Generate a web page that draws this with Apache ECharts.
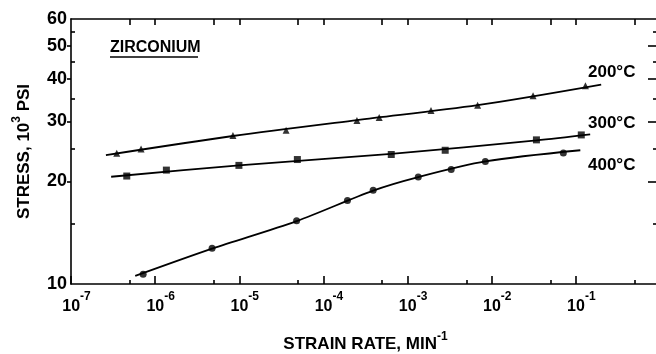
<!DOCTYPE html>
<html><head><meta charset="utf-8">
<script src="https://cdn.jsdelivr.net/npm/echarts@6/dist/echarts.min.js"></script>
<style>html,body{margin:0;padding:0;background:#fff}#c{width:656px;height:354px}</style>
</head><body><div id="c"></div>
<script>
const FONT = "'Liberation Sans', Arial, sans-serif";

// Tick positions and labels
const xMajorTicks = [1e-7, 1e-6, 1e-5, 1e-4, 1e-3, 1e-2, 1e-1];
const xTickExponents = ['-7', '-6', '-5', '-4', '-3', '-2', '-1'];
const xMinorTicks = [5e-7, 5e-6, 5e-5, 5e-4, 5e-3, 5e-2, 5e-1];
const xAllTopTicks = [5e-7, 1e-6, 5e-6, 1e-5, 5e-5, 1e-4, 5e-4, 1e-3, 5e-3, 1e-2, 5e-2, 1e-1, 5e-1];
const yLabelTicks = [10, 20, 30, 40, 50, 60];
const yMajorTicks = [20, 30, 40, 50];
const yMinorTicks = [15, 25, 35, 45, 55];

// 200 °C (triangles)
const rate200 = [3.5e-7, 6.8e-7, 8.4e-6, 3.6e-5, 2.5e-4, 4.6e-4, 1.9e-3, 6.8e-3, 3.1e-2, 0.13];
const stress200 = [24.2, 24.9, 27.3, 28.3, 30.2, 30.8, 32.3, 33.5, 35.7, 38.2];
const fitRate200 = [2.6e-7, 8.4e-6, 2.5e-4, 6.8e-3, 0.2];
const fitStress200 = [23.9, 27.2, 30.3, 33.5, 38.5];

// 300 °C (squares)
const rate300 = [4.6e-7, 1.36e-6, 9.9e-6, 4.9e-5, 6.4e-4, 2.8e-3, 3.4e-2, 0.116];
const stress300 = [20.75, 21.6, 22.3, 23.2, 24.0, 24.7, 26.5, 27.4];
const fitRate300 = [3.0e-7, 9.9e-6, 6.4e-4, 3.4e-2, 0.148];
const fitStress300 = [20.65, 22.3, 24.1, 26.4, 27.5];

// 400 °C (circles)
const rate400 = [7.2e-7, 4.75e-6, 4.8e-5, 1.93e-4, 3.9e-4, 1.34e-3, 3.3e-3, 8.4e-3, 7.1e-2];
const stress400 = [10.68, 12.73, 15.34, 17.6, 18.84, 20.6, 21.7, 22.9, 24.25];
const fitRate400 = [5.8e-7, 4.75e-6, 4.8e-5, 3.9e-4, 1.34e-3, 8.4e-3, 0.113];
const fitStress400 = [10.56, 12.7, 15.3, 18.8, 20.6, 22.9, 24.7];

const zip = (a, b) => a.map((v, i) => [v, b[i]]);

const chart = echarts.init(document.getElementById('c'), null, {renderer: 'canvas'});
const black = '#000';
const lineStyle = {color: black, width: 1.6};

function fitSeries(rate, stress) {
  return {type: 'line', data: zip(rate, stress), symbol: 'none', smooth: 0.3,
    lineStyle: {color: black, width: 1.8}, silent: true, z: 2};
}
function markSeries(rate, stress, sym, size) {
  return {type: 'scatter', data: zip(rate, stress), symbol: sym, symbolSize: size,
    itemStyle: {color: black}, silent: true, z: 3};
}

const option = {
  animation: false,
  backgroundColor: '#fff',
  textStyle: {fontFamily: FONT},
  grid: {left: 71, right: -4, top: 19, bottom: 70, containLabel: false, outerBoundsMode: 'none'},
  xAxis: [
    {type: 'log', logBase: 10, min: 1e-7, max: 1, position: 'bottom',
     axisLine: {show: true, onZero: false, lineStyle: lineStyle},
     axisTick: {show: true, inside: true, length: 8, lineStyle: lineStyle, customValues: xMajorTicks},
     axisLabel: {show: true, customValues: xMajorTicks, margin: 7,
       formatter: function (v) {
         let i = xMajorTicks.findIndex(t => Math.abs(Math.log10(t) - Math.log10(v)) < 1e-6);
         return '{sp|}{b|10}{s|' + xTickExponents[i] + '}';
       },
       rich: {
         sp: {width: 11},
         b: {fontSize: 16, fontWeight: 'bold', color: black, fontFamily: FONT, lineHeight: 24, verticalAlign: 'bottom'},
         s: {fontSize: 12, fontWeight: 'bold', color: black, fontFamily: FONT, lineHeight: 12, verticalAlign: 'top'}
       }},
     splitLine: {show: false},
     name: '{t|STRAIN RATE, MIN}{s|-1}', nameLocation: 'middle', nameGap: 47,
     nameTextStyle: {rich: {
       t: {fontSize: 17, fontWeight: 'bold', color: black, fontFamily: FONT, lineHeight: 22, verticalAlign: 'bottom'},
       s: {fontSize: 12, fontWeight: 'bold', color: black, fontFamily: FONT, lineHeight: 12, verticalAlign: 'top'}
     }}},
    {type: 'log', logBase: 10, min: 1e-7, max: 1, position: 'bottom',
     axisLine: {show: false, onZero: false},
     axisTick: {show: true, inside: true, length: 4, lineStyle: lineStyle, customValues: xMinorTicks},
     axisLabel: {show: false}, splitLine: {show: false}},
    {type: 'log', logBase: 10, min: 1e-7, max: 1, position: 'top',
     axisLine: {show: true, onZero: false, lineStyle: lineStyle},
     axisTick: {show: true, inside: true, length: 6, lineStyle: lineStyle, customValues: xAllTopTicks},
     axisLabel: {show: false}, splitLine: {show: false}}
  ],
  yAxis: [
    {type: 'log', logBase: 10, min: 10, max: 60, position: 'left',
     axisLine: {show: true, onZero: false, lineStyle: lineStyle},
     axisTick: {show: true, inside: false, length: 4, lineStyle: lineStyle, customValues: yMajorTicks},
     axisLabel: {show: true, customValues: yLabelTicks, margin: 4,
       fontSize: 18, fontWeight: 'bold', color: black, fontFamily: FONT},
     splitLine: {show: false},
     name: '{t|STRESS, 10}{s|3}{t| PSI}', nameLocation: 'middle', nameRotate: 90, nameGap: 38,
     nameTextStyle: {rich: {
       t: {fontSize: 17, fontWeight: 'bold', color: black, fontFamily: FONT, lineHeight: 22, verticalAlign: 'bottom'},
       s: {fontSize: 12, fontWeight: 'bold', color: black, fontFamily: FONT, lineHeight: 12, verticalAlign: 'top'}
     }}},
    {type: 'log', logBase: 10, min: 10, max: 60, position: 'left',
     axisLine: {show: false, onZero: false},
     axisTick: {show: true, inside: true, length: 4, lineStyle: lineStyle, customValues: yMinorTicks},
     axisLabel: {show: false}, splitLine: {show: false}},
    {type: 'log', logBase: 10, min: 10, max: 60, position: 'right',
     axisLine: {show: true, onZero: false, lineStyle: lineStyle},
     axisTick: {show: true, inside: true, length: 12, lineStyle: lineStyle, customValues: yMajorTicks},
     axisLabel: {show: false}, splitLine: {show: false}},
    {type: 'log', logBase: 10, min: 10, max: 60, position: 'right',
     axisLine: {show: false, onZero: false},
     axisTick: {show: true, inside: true, length: 7, lineStyle: lineStyle, customValues: yMinorTicks},
     axisLabel: {show: false}, splitLine: {show: false}}
  ],
  series: [
    fitSeries(fitRate200, fitStress200),
    fitSeries(fitRate300, fitStress300),
    fitSeries(fitRate400, fitStress400),
    markSeries(rate200, stress200, 'triangle', 7),
    markSeries(rate300, stress300, 'rect', 7),
    markSeries(rate400, stress400, 'circle', 7)
  ],
  graphic: [
    {type: 'text', left: 110, top: 40, style: {text: 'ZIRCONIUM', fill: black, font: 'bold 16px ' + FONT}},
    {type: 'line', shape: {x1: 110, y1: 57, x2: 198, y2: 57}, style: {stroke: black, lineWidth: 1.5}},
    {type: 'text', left: 588, top: 64, style: {text: '200°C', fill: black, font: 'bold 17px ' + FONT}},
    {type: 'text', left: 588, top: 115, style: {text: '300°C', fill: black, font: 'bold 17px ' + FONT}},
    {type: 'text', left: 588, top: 157, style: {text: '400°C', fill: black, font: 'bold 17px ' + FONT}}
  ]
};
chart.setOption(option);
</script>
</body></html>
